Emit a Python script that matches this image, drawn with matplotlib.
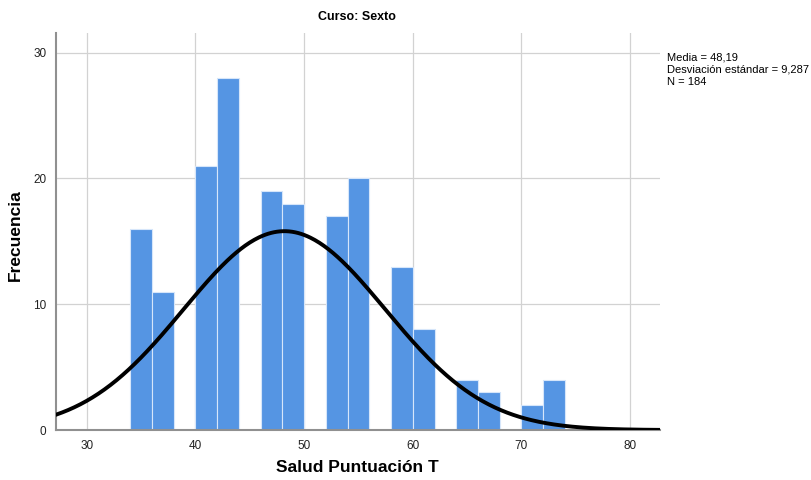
import numpy as np
import matplotlib.pyplot as plt

plt.rcParams['font.family'] = ['Liberation Sans', 'DejaVu Sans']

# histogram bins (left edges, width 2) and counts
bin_left = [34, 36, 40, 42, 46, 48, 52, 54, 58, 60, 64, 66, 70, 72]
counts = [16, 11, 21, 28, 19, 18, 17, 20, 13, 8, 4, 3, 2, 4]
bin_width = 2

media = 48.19
desv = 9.287
n = 184

fig = plt.figure(figsize=(8.12, 4.8), dpi=100)
ax = fig.add_axes([0.069, 0.104, 0.744, 0.827])

ax.bar(bin_left, counts, width=bin_width, align='edge',
       color='#5595e3', edgecolor='#d6e6fa', linewidth=0.8, zorder=2)

# normal curve scaled to the histogram
xs = np.linspace(27.18, 82.76, 400)
ys = n * bin_width / (desv * np.sqrt(2 * np.pi)) * np.exp(-0.5 * ((xs - media) / desv) ** 2)
ax.plot(xs, ys, color='black', linewidth=2.8, zorder=3)

ax.set_xlim(27.18, 82.76)
ax.set_ylim(0, 31.55)
ax.set_xticks([30, 40, 50, 60, 70, 80])
ax.set_yticks([0, 10, 20, 30])
ax.grid(True, color='#d2d2d2', linewidth=0.9, zorder=0)
ax.set_axisbelow(True)

for s in ['top', 'right']:
    ax.spines[s].set_visible(False)
for s in ['left', 'bottom']:
    ax.spines[s].set_color('#909090')
    ax.spines[s].set_linewidth(1.5)
ax.tick_params(length=0, labelsize=8.5, pad=7, labelcolor='#222222')

fig.text(0.44, 0.027, 'Salud Puntuación T', fontsize=12.5, fontweight='bold',
         ha='center', va='center')
fig.text(0.019, 0.51, 'Frecuencia', fontsize=12.5, fontweight='bold',
         ha='center', va='center', rotation=90)
fig.text(0.44, 0.964, 'Curso: Sexto', fontsize=9, fontweight='bold',
         ha='center', va='center')

fig.text(0.822, 0.89,
         'Media = 48,19\nDesviación estándar = 9,287\nN = 184',
         fontsize=8, va='top', ha='left', linespacing=1.25)

fig.savefig('out.png', dpi=100)
